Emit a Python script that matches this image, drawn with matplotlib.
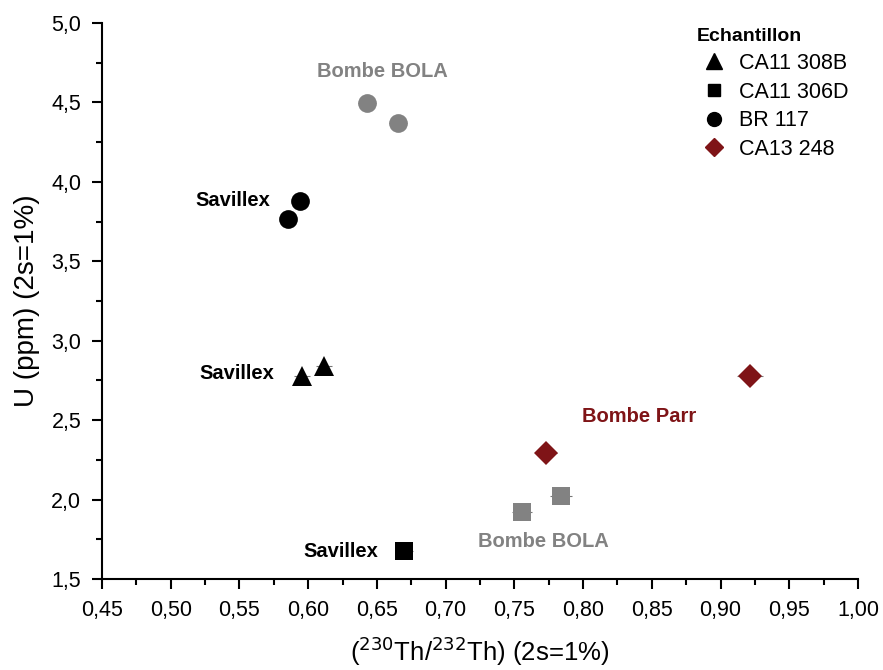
import matplotlib
matplotlib.use("Agg")
import matplotlib.pyplot as plt
from matplotlib.lines import Line2D
from matplotlib.ticker import MultipleLocator, FuncFormatter

plt.rcParams['font.family'] = ['Liberation Sans', 'DejaVu Sans']

# (230Th/232Th) and U (ppm), 2s = 1%
tri_x = [0.5955, 0.6115]            # CA11 308B, Savillex
tri_y = [2.777, 2.840]
sq_sav_x = [0.6697]                 # CA11 306D, Savillex
sq_sav_y = [1.676]
sq_bola_x = [0.7556, 0.7840]        # CA11 306D, Bombe BOLA
sq_bola_y = [1.920, 2.022]
circ_sav_x = [0.5853, 0.5940]       # BR 117, Savillex
circ_sav_y = [3.766, 3.880]
circ_bola_x = [0.6428, 0.6654]      # BR 117, Bombe BOLA
circ_bola_y = [4.495, 4.370]
dia_x = [0.7730, 0.9214]            # CA13 248, Bombe Parr
dia_y = [2.293, 2.778]
err_pct = 0.01

legend_labels = ["CA11 308B", "CA11 306D", "BR 117", "CA13 248"]

BLACK = "#000000"
GRAY = "#828282"
RED = "#7f1417"

fig = plt.figure(figsize=(8.83, 6.7), dpi=100)
ax = fig.add_axes([0.1155, 0.1358, 0.8562, 0.8299])


def plot_pts(xs, ys, marker, color, ms):
    ax.errorbar(xs, ys, xerr=[v * err_pct for v in xs], yerr=[v * err_pct for v in ys],
                fmt="none", ecolor="#777777", elinewidth=0.8, zorder=2)
    ax.plot(xs, ys, linestyle="none", marker=marker, color=color, ms=ms,
            markeredgewidth=0, zorder=3)


plot_pts(tri_x, tri_y, "^", BLACK, 15)
plot_pts(sq_sav_x, sq_sav_y, "s", BLACK, 13)
plot_pts(sq_bola_x, sq_bola_y, "s", GRAY, 12.5)
plot_pts(circ_sav_x, circ_sav_y, "o", BLACK, 13.5)
plot_pts(circ_bola_x, circ_bola_y, "o", GRAY, 13.5)
plot_pts(dia_x, dia_y, "D", RED, 12)

# annotations
lab_kw = dict(fontsize=14.5, fontweight="bold", ha="center", va="center")
ax.text(0.5453, 3.885, "Savillex", color=BLACK, **lab_kw)
ax.text(0.5482, 2.796, "Savillex", color=BLACK, **lab_kw)
ax.text(0.6239, 1.676, "Savillex", color=BLACK, **lab_kw)
ax.text(0.6537, 4.697, "Bombe BOLA", color=GRAY, **lab_kw)
ax.text(0.7710, 1.733, "Bombe BOLA", color=GRAY, **lab_kw)
ax.text(0.8407, 2.520, "Bombe Parr", color=RED, **lab_kw)

ax.set_xlim(0.45, 1.0)
ax.set_ylim(1.5, 5.0)
ax.spines["top"].set_visible(False)
ax.spines["right"].set_visible(False)
for s in ("left", "bottom"):
    ax.spines[s].set_linewidth(1.5)

ax.xaxis.set_major_locator(MultipleLocator(0.05))
ax.xaxis.set_minor_locator(MultipleLocator(0.025))
ax.yaxis.set_major_locator(MultipleLocator(0.5))
ax.yaxis.set_minor_locator(MultipleLocator(0.25))
ax.xaxis.set_major_formatter(FuncFormatter(lambda v, p: f"{v:.2f}".replace(".", ",")))
ax.yaxis.set_major_formatter(FuncFormatter(lambda v, p: f"{v:.1f}".replace(".", ",")))
ax.tick_params(which="major", direction="out", length=7, width=1.5, labelsize=15.5, pad=8)
ax.tick_params(which="minor", direction="out", length=4, width=1.5)

ax.set_xlabel(r"($^{230}$Th/$^{232}$Th) (2s=1%)", fontsize=18.5, labelpad=10)
ax.set_ylabel("U (ppm) (2s=1%)", fontsize=20, labelpad=8)

handles = [
    Line2D([], [], linestyle="none", marker="^", color=BLACK, ms=11),
    Line2D([], [], linestyle="none", marker="s", color=BLACK, ms=9),
    Line2D([], [], linestyle="none", marker="o", color=BLACK, ms=10),
    Line2D([], [], linestyle="none", marker="D", color=RED, ms=9),
]
leg = ax.legend(handles, legend_labels, title="Echantillon", loc="upper right",
                bbox_to_anchor=(1.013, 1.025), frameon=False, fontsize=15.5,
                handletextpad=0.35, handlelength=1.6, labelspacing=0.35,
                alignment="left")
leg.get_title().set_fontweight("bold")
leg.get_title().set_fontsize(14)

fig.savefig("out.png", dpi=100)
